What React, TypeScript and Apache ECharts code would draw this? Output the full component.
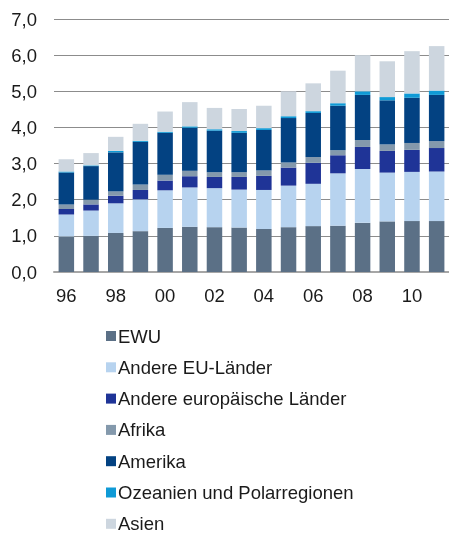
import React, { useEffect, useRef } from "react";
import * as echarts from "echarts";

const years = ["96", "97", "98", "99", "00", "01", "02", "03", "04", "05", "06", "07", "08", "09", "10", "11"];

const ewu = [0.98, 1.0, 1.08, 1.13, 1.22, 1.25, 1.24, 1.23, 1.19, 1.24, 1.27, 1.28, 1.36, 1.4, 1.41, 1.41];
const andereEU = [0.61, 0.7, 0.82, 0.88, 1.04, 1.09, 1.08, 1.05, 1.08, 1.15, 1.17, 1.45, 1.49, 1.35, 1.36, 1.37];
const andereEuropa = [0.15, 0.17, 0.21, 0.26, 0.27, 0.31, 0.31, 0.35, 0.39, 0.5, 0.58, 0.5, 0.61, 0.6, 0.61, 0.65];
const afrika = [0.13, 0.13, 0.12, 0.15, 0.16, 0.15, 0.13, 0.13, 0.15, 0.14, 0.16, 0.14, 0.19, 0.18, 0.19, 0.19];
const amerika = [0.88, 0.93, 1.08, 1.18, 1.16, 1.19, 1.15, 1.09, 1.12, 1.23, 1.22, 1.23, 1.25, 1.22, 1.25, 1.28];
const ozeanien = [0.03, 0.02, 0.04, 0.03, 0.03, 0.04, 0.04, 0.05, 0.05, 0.05, 0.05, 0.07, 0.1, 0.09, 0.12, 0.12];
const asien = [0.34, 0.34, 0.39, 0.47, 0.56, 0.67, 0.59, 0.61, 0.62, 0.69, 0.77, 0.9, 1.0, 0.99, 1.17, 1.23];

const seriesDefs = [
  { name: "EWU", data: ewu, color: "#5b7086" },
  { name: "Andere EU-Länder", data: andereEU, color: "#b7d3ef" },
  { name: "Andere europäische Länder", data: andereEuropa, color: "#1f3497" },
  { name: "Afrika", data: afrika, color: "#8499ac" },
  { name: "Amerika", data: amerika, color: "#034282" },
  { name: "Ozeanien und Polarregionen", data: ozeanien, color: "#0f9ad6" },
  { name: "Asien", data: asien, color: "#cdd6df" },
];

const FONT = "'Liberation Sans', Arial, sans-serif";

export default function App() {
  const ref = useRef<HTMLDivElement>(null);
  useEffect(() => {
    if (!ref.current) return;
    const chart = echarts.init(ref.current, null, { renderer: "svg" });
    chart.setOption({
      animation: false,
      textStyle: { fontFamily: FONT },
      grid: { left: 54, top: 19, width: 400, height: 253 },
      legend: {
        orient: "vertical",
        left: 106,
        top: 326,
        padding: 0,
        itemWidth: 10,
        itemHeight: 10,
        itemGap: 11.3,
        icon: "rect",
        textStyle: { fontSize: 18.5, color: "#1a1a1a", fontFamily: FONT, lineHeight: 20, padding: [0, 0, 0, -3] },
        data: seriesDefs.map((s) => s.name),
      },
      xAxis: {
        type: "category",
        data: years,
        axisTick: { show: false },
        axisLine: { lineStyle: { color: "#a6a6a6", width: 2 } },
        axisLabel: { interval: 1, fontSize: 18.5, color: "#1a1a1a", margin: 14, fontFamily: FONT },
      },
      yAxis: {
        type: "value",
        min: 0,
        max: 7,
        interval: 1,
        axisLine: { show: false },
        axisTick: { show: false },
        splitLine: { lineStyle: { color: "#8c8c8c", width: 1 } },
        axisLabel: {
          fontSize: 18.5,
          color: "#1a1a1a",
          margin: 17,
          fontFamily: FONT,
          formatter: (v: number) => v.toFixed(1).replace(".", ","),
        },
      },
      series: seriesDefs.map((s) => ({
        name: s.name,
        type: "bar",
        stack: "total",
        barWidth: 15.5,
        data: s.data,
        itemStyle: { color: s.color },
      })),
    });
    return () => chart.dispose();
  }, []);
  return <div ref={ref} style={{ position: "fixed", left: 0, top: 0, width: 449, height: 534 }} />;
}
